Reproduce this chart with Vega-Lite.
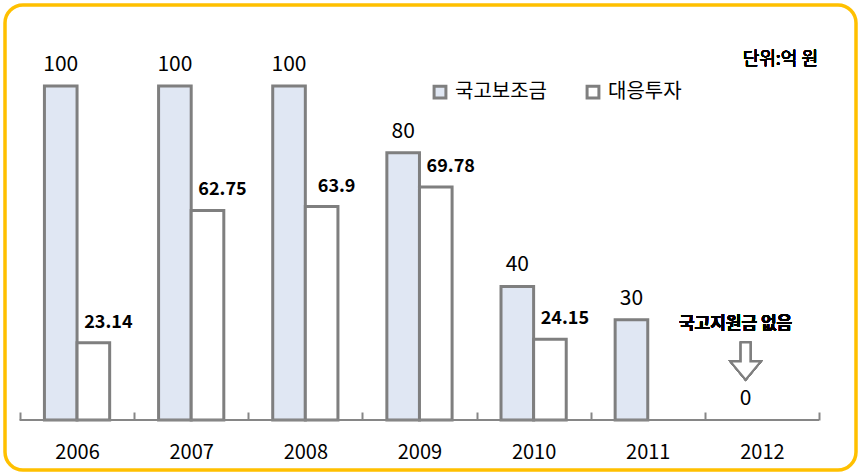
{
  "$schema": "https://vega.github.io/schema/vega-lite/v6.json",
  "autosize": {"type": "none"},
  "width": 851,
  "height": 465,
  "padding": {"left": 5, "top": 5, "right": 5, "bottom": 5},
  "background": "white",
  "config": {
    "font": "Noto Sans CJK KR",
    "view": {"stroke": "#FFC000", "strokeWidth": 3.5, "cornerRadius": 18}
  },
  "datasets": {
    "bars": [
      {"year": "2006", "series": "국고보조금", "value": 100},
      {"year": "2006", "series": "대응투자", "value": 23.14},
      {"year": "2007", "series": "국고보조금", "value": 100},
      {"year": "2007", "series": "대응투자", "value": 62.75},
      {"year": "2008", "series": "국고보조금", "value": 100},
      {"year": "2008", "series": "대응투자", "value": 63.9},
      {"year": "2009", "series": "국고보조금", "value": 80},
      {"year": "2009", "series": "대응투자", "value": 69.78},
      {"year": "2010", "series": "국고보조금", "value": 40},
      {"year": "2010", "series": "대응투자", "value": 24.15},
      {"year": "2011", "series": "국고보조금", "value": 30},
      {"year": "2012", "series": "국고보조금", "value": 0}
    ]
  },
  "data": {"name": "bars"},
  "encoding": {
    "x": {
      "field": "year",
      "type": "nominal",
      "scale": {"paddingInner": 0, "paddingOuter": 0.2278, "align": 0.288},
      "axis": {
        "orient": "bottom",
        "offset": -50,
        "title": null,
        "domain": false,
        "ticks": true,
        "tickBand": "extent",
        "tickSize": -8,
        "tickColor": "#868686",
        "tickWidth": 2,
        "labelAngle": 0,
        "labelFontSize": 20,
        "labelColor": "black",
        "labelPadding": 30
      }
    },
    "y": {
      "field": "value",
      "type": "quantitative",
      "scale": {"domain": [-14.97, 124.25], "nice": false, "zero": false},
      "axis": null
    }
  },
  "layer": [
    {
      "transform": [{"filter": "datum.value > 0"}],
      "mark": {"type": "bar", "stroke": "#7f7f7f", "strokeWidth": 3},
      "encoding": {
        "xOffset": {
          "field": "series",
          "type": "nominal",
          "sort": ["국고보조금", "대응투자"],
          "scale": {"paddingInner": 0, "paddingOuter": 0.75}
        },
        "y2": {"datum": 0},
        "fill": {
          "field": "series",
          "type": "nominal",
          "scale": {"domain": ["국고보조금", "대응투자"], "range": ["#e0e7f3", "#ffffff"]},
          "legend": {
            "orient": "none",
            "legendX": 425,
            "legendY": 77,
            "direction": "horizontal",
            "title": null,
            "symbolType": "square",
            "symbolSize": 140,
            "symbolStrokeColor": "#7f7f7f",
            "symbolStrokeWidth": 3,
            "symbolOpacity": 1,
            "labelFontSize": 20,
            "labelColor": "black",
            "labelOffset": 5,
            "columnPadding": 34
          }
        }
      }
    },
    {
      "mark": {"type": "rule", "color": "#868686", "strokeWidth": 2},
      "encoding": {
        "x": {"datum": "2006", "bandPosition": 0},
        "x2": {"datum": "2012", "bandPosition": 1},
        "y": {"datum": 0}
      }
    },
    {
      "transform": [{"filter": "datum.series == '국고보조금'"}],
      "mark": {"type": "text", "baseline": "alphabetic", "dy": -15, "fontSize": 21, "color": "black"},
      "encoding": {
        "xOffset": {"field": "series", "type": "nominal", "sort": ["국고보조금", "대응투자"]},
        "text": {"field": "value", "type": "nominal"}
      }
    },
    {
      "transform": [{"filter": "datum.series == '대응투자'"}],
      "mark": {"type": "text", "baseline": "alphabetic", "dy": -15, "dx": 15, "fontSize": 18, "fontWeight": "bold", "color": "black"},
      "encoding": {
        "xOffset": {"field": "series", "type": "nominal", "sort": ["국고보조금", "대응투자"]},
        "text": {"field": "value", "type": "nominal"}
      }
    },
    {
      "mark": {"type": "text", "baseline": "middle", "dx": -10, "fontSize": 17, "fontWeight": "bold", "color": "black"},
      "encoding": {
        "x": {"datum": "2012"},
        "xOffset": {"datum": "국고보조금"},
        "y": {"datum": 28.7},
        "text": {"value": "국고지원금 없음"}
      }
    },
    {
      "mark": {
        "type": "point",
        "shape": "M -0.25 -1 L 0.25 -1 L 0.25 0 L 0.79 0 L 0 0.95 L -0.79 0 L -0.25 0 Z",
        "size": 1444,
        "filled": true,
        "fill": "white",
        "stroke": "#7f7f7f",
        "strokeWidth": 2,
        "opacity": 1
      },
      "encoding": {
        "x": {"datum": "2012"},
        "xOffset": {"datum": "국고보조금"},
        "y": {"datum": 17.5}
      }
    },
    {
      "mark": {"type": "text", "baseline": "middle", "align": "right", "dx": -1, "fontSize": 18, "color": "black"},
      "encoding": {
        "x": {"datum": "2012", "bandPosition": 1},
        "y": {"datum": 107.8},
        "text": {"value": "단위:억 원"}
      }
    }
  ]
}
